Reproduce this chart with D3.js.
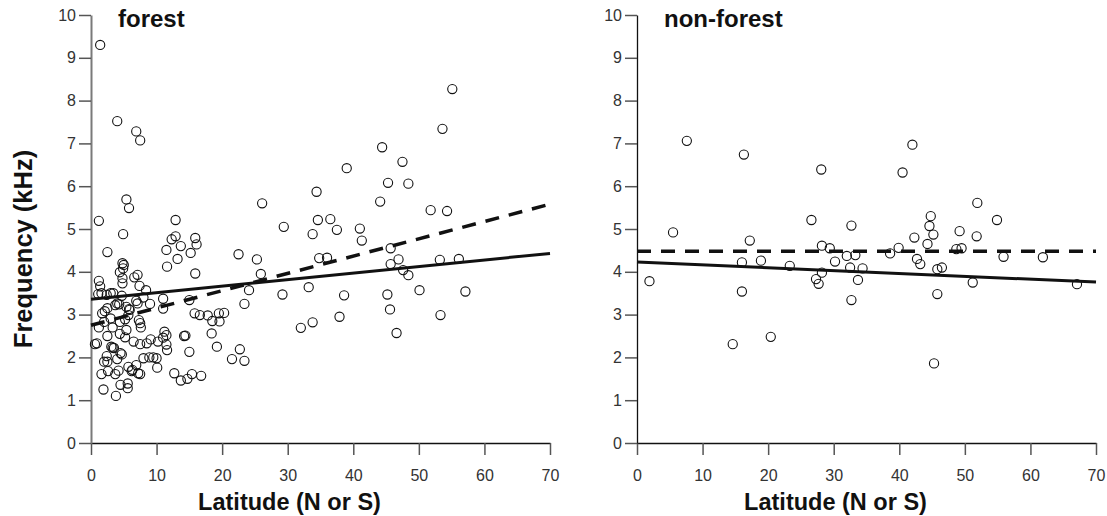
<!DOCTYPE html>
<html>
<head>
<meta charset="utf-8">
<script src="https://cdn.jsdelivr.net/npm/d3@7/dist/d3.min.js"></script>
<style>
    body { margin: 0; background: #fff; }
    svg { font-family: "Liberation Sans", Arial, Helvetica, sans-serif; }
</style>
</head>
<body>
<svg id="chart" width="1107" height="516"></svg>
<script>
// panel titles, axis labels, ticks
var panelTitles = ['forest', 'non-forest'];
var xTitle = 'Latitude (N or S)';
var yTitle = 'Frequency (kHz)';
var xTicks = [0, 10, 20, 30, 40, 50, 60, 70];
var yTicks = [0, 1, 2, 3, 4, 5, 6, 7, 8, 9, 10];

// [latitude, frequency]
var forestPoints = [
    [1.4,9.3],[4.0,7.52],[6.9,7.28],[7.5,7.07],[5.4,5.69],[5.8,5.49],[1.2,5.19],[4.9,4.88],
    [12.9,5.21],[12.3,4.76],[12.9,4.83],[11.5,4.51],[13.7,4.60],[15.9,4.79],[16.1,4.64],[15.2,4.44],
    [13.2,4.30],[2.5,4.46],[22.5,4.41],[26.1,5.60],[29.4,5.05],[25.3,4.29],
    [55.1,8.27],[53.6,7.34],[44.4,6.91],[47.5,6.57],[39.0,6.42],[45.3,6.08],[48.4,6.06],[34.4,5.87],
    [44.1,5.64],[51.8,5.44],[54.3,5.42],[34.6,5.21],[36.5,5.23],[33.8,4.88],[37.5,4.98],[41.0,5.01],
    [41.3,4.73],[34.8,4.32],[36.0,4.33],[45.7,4.55],[45.7,4.18],[46.9,4.29],[53.2,4.28],[56.1,4.30],
    [47.6,4.04],[48.4,3.92],[33.2,3.64],[29.2,3.47],[38.6,3.45],[45.2,3.47],[50.1,3.57],[57.1,3.54],
    [45.6,3.12],[53.3,2.99],[37.9,2.95],[33.8,2.82],[32.0,2.69],[46.6,2.57],
    [11.6,4.12],[15.9,3.96],[25.9,3.95],[24.1,3.57],[23.4,3.25],[15.0,3.34],[11.0,3.37],[11.0,3.14],
    [15.8,3.03],[16.6,2.99],[17.8,2.98],[19.5,3.03],[20.3,3.04],[18.5,2.85],[19.6,2.84],[18.4,2.56],
    [19.2,2.25],[22.7,2.19],[21.5,1.96],[23.4,1.92],[14.2,2.50],[14.4,2.51],[15.0,2.13],[11.2,2.60],
    [11.5,2.52],[11.0,2.46],[11.5,2.30],[11.6,2.17],[10.0,1.98],[10.1,1.76],[12.7,1.63],[13.7,1.46],
    [14.7,1.50],[15.4,1.61],[16.8,1.57],
    [10.2,2.37],[9.1,2.42],[8.5,2.33],[7.5,2.31],[6.5,2.37],[8.0,1.98],[8.9,2.00],[9.5,2.00],
    [7.2,1.63],[7.5,1.61],[6.9,1.82],[6.3,1.71],[5.7,1.78],[6.2,1.68],[5.6,1.39],[5.6,1.28],
    [4.5,1.36],[3.8,1.10],[1.9,1.25],[1.6,1.61],[3.7,1.61],[2.6,1.68],[4.2,1.69],[2.0,1.90],
    [2.5,1.90],[2.4,2.03],[4.0,1.96],[4.5,2.10],[4.7,2.07],[3.3,2.23],[3.5,2.22],[3.1,2.25],
    [0.6,2.31],[0.9,2.33],[2.5,2.50],[4.4,2.55],[5.2,2.47],[5.4,2.64],[3.3,2.70],[1.2,2.70],
    [2.0,2.83],[3.0,2.91],[4.4,2.83],[5.2,2.89],[5.7,2.99],[5.9,3.11],[7.3,2.87],[7.5,2.80],
    [7.6,2.70],[1.7,3.03],[2.1,3.08],[2.5,3.15],[3.7,3.22],[4.0,3.26],[4.3,3.24],[5.4,3.18],
    [5.8,3.13],[6.9,3.32],[7.1,3.26],[8.0,3.40],[9.0,3.25],[8.4,3.57],[7.4,3.67],[1.2,3.79],
    [1.4,3.66],[1.1,3.48],[1.6,3.50],[2.4,3.46],[3.0,3.50],[3.4,3.50],[4.7,3.44],[4.8,3.73],
    [4.8,3.85],[4.4,3.99],[4.9,4.08],[5.0,4.16],[4.8,4.20],[6.6,3.87],[7.1,3.93]
];

var nonForestPoints = [
    [7.6,7.06],[16.3,6.74],[28.1,6.39],[5.5,4.92],[17.2,4.73],[26.6,5.21],[28.2,4.61],[29.4,4.55],
    [32.7,5.08],[42.0,6.97],[40.5,6.32],[51.9,5.61],[54.9,5.21],[44.8,5.30],[44.6,5.07],[45.2,4.87],
    [42.3,4.80],[44.3,4.65],[49.2,4.95],[51.8,4.83],[39.9,4.56],[38.6,4.43],[48.7,4.53],[49.5,4.55],
    [32.0,4.37],[33.3,4.39],[42.7,4.30],[32.5,4.10],[34.4,4.08],[33.7,3.81],[32.7,3.34],[43.2,4.18],
    [45.8,4.06],[46.5,4.10],[45.8,3.48],[45.3,1.86],[51.2,3.75],[55.9,4.35],[61.9,4.34],[67.1,3.71],
    [1.9,3.78],[16.0,4.22],[18.9,4.26],[23.3,4.14],[16.0,3.54],[14.6,2.31],[20.4,2.48],[27.3,3.83],
    [27.7,3.72],[28.2,3.98],[30.2,4.24]
];

// fitted lines, end points
var forestSolid = [[0, 3.36], [70, 4.43]];
var forestDashed = [[0, 2.75], [70, 5.58]];
var nonForestSolid = [[0, 4.23], [70, 3.76]];
var nonForestDashed = [[0, 4.48], [70, 4.48]];

d3.select(window).on('load', init);

function init() {
    var svg = d3.select('#chart');

    var yScale = d3.scaleLinear().domain([0, 10]).range([443, 15]);

    var panels = [
        {title: panelTitles[0], points: forestPoints, solid: forestSolid, dashed: forestDashed,
            left: 91, right: 550, yAxisColor: '#7a7a7a', yAxisWidth: 2},
        {title: panelTitles[1], points: nonForestPoints, solid: nonForestSolid, dashed: nonForestDashed,
            left: 637, right: 1096, yAxisColor: '#111', yAxisWidth: 1.3}
    ];

    panels.forEach(function(p) {
        var xScale = d3.scaleLinear().domain([0, 70]).range([p.left, p.right]);
        var g = svg.append('g');

        // x axis
        var xAxis = g.append('g')
            .attr('transform', 'translate(0,443)')
            .call(d3.axisBottom(xScale).tickValues(xTicks).tickSize(12).tickSizeOuter(0).tickPadding(15));
        xAxis.select('.domain').attr('stroke', '#111').attr('stroke-width', 1.5);
        xAxis.selectAll('.tick line').attr('stroke', '#555').attr('stroke-width', 1.5);
        xAxis.selectAll('.tick text')
            .attr('fill', '#333')
            .style('font-size', '16px')
            .style('font-family', '"Liberation Sans", Arial, sans-serif');

        // y axis
        var yAxis = g.append('g')
            .attr('transform', 'translate(' + p.left + ',0)')
            .call(d3.axisLeft(yScale).tickValues(yTicks).tickSize(12).tickSizeOuter(0).tickPadding(3));
        yAxis.select('.domain').attr('stroke', p.yAxisColor).attr('stroke-width', p.yAxisWidth);
        yAxis.selectAll('.tick line').attr('stroke', '#555').attr('stroke-width', 1.5);
        yAxis.selectAll('.tick text')
            .attr('fill', '#333')
            .style('font-size', '16px')
            .style('font-family', '"Liberation Sans", Arial, sans-serif');

        var line = d3.line()
            .x(function(d) { return xScale(d[0]); })
            .y(function(d) { return yScale(d[1]); });

        // points
        g.append('g')
            .selectAll('circle')
            .data(p.points)
            .enter()
            .append('circle')
            .attr('cx', function(d) { return xScale(d[0]); })
            .attr('cy', function(d) { return yScale(d[1]); })
            .attr('r', 4.6)
            .attr('fill', 'none')
            .attr('stroke', '#111')
            .attr('stroke-width', 1.1);

        // fitted lines
        g.append('path')
            .datum(p.solid)
            .attr('d', line)
            .attr('fill', 'none')
            .attr('stroke', '#111')
            .attr('stroke-width', 3);

        g.append('path')
            .datum(p.dashed)
            .attr('d', line)
            .attr('fill', 'none')
            .attr('stroke', '#111')
            .attr('stroke-width', 3.5)
            .attr('stroke-dasharray', '14,10');

        // panel title
        g.append('text')
            .attr('x', p.left + 27)
            .attr('y', 27)
            .style('font-size', '24px')
            .style('font-weight', 'bold')
            .attr('fill', '#111')
            .text(p.title);

        // x axis title
        g.append('text')
            .attr('x', (p.left + p.right) / 2 - 31)
            .attr('y', 510)
            .style('text-anchor', 'middle')
            .style('font-size', '23.5px')
            .style('font-weight', 'bold')
            .attr('fill', '#111')
            .text(xTitle);
    });

    // y axis title
    svg.append('text')
        .attr('transform', 'rotate(-90)')
        .attr('x', -249)
        .attr('y', 32)
        .style('text-anchor', 'middle')
        .style('font-size', '25.5px')
        .style('font-weight', 'bold')
        .attr('fill', '#111')
        .text(yTitle);
}
</script>
</body>
</html>
